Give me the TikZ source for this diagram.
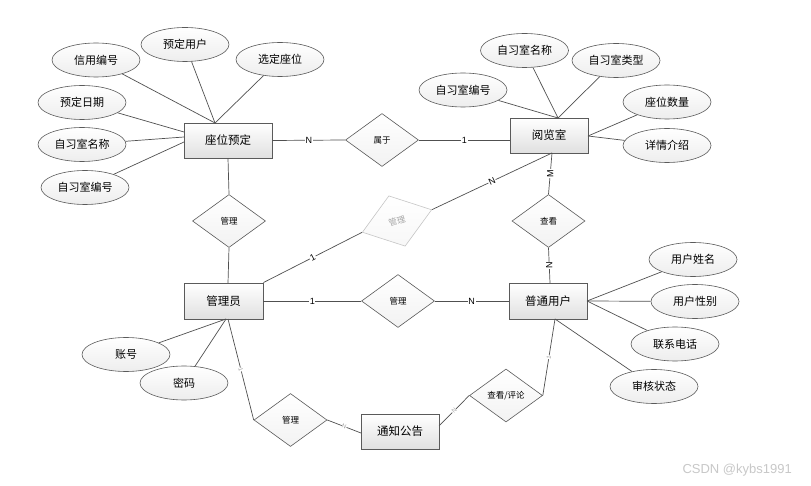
\documentclass[tikz,border=0pt]{standalone}
\usepackage{fontspec}
\setmainfont{Liberation Sans}
\newfontfamily\cjk{Noto Sans CJK SC}
\usetikzlibrary{shapes.geometric}
\definecolor{ln}{HTML}{505050}
\definecolor{bd}{HTML}{5A5A5A}
\definecolor{shd}{HTML}{E0E0E0}
\definecolor{wm}{HTML}{C8C8C8}
\tikzset{
  entity/.style={draw=bd, line width=0.9pt, rectangle, minimum width=78pt, minimum height=35pt,
    inner sep=0pt, top color=white, bottom color=shd, font=\cjk\fontsize{11.5}{13}\selectfont},
  attr/.style={draw=bd, line width=0.6pt, ellipse, minimum width=88pt, minimum height=34pt,
    inner sep=0pt, top color=white, bottom color=gray!14, font=\cjk\fontsize{11}{13}\selectfont},
  rel/.style={draw=bd, line width=0.6pt, diamond, minimum width=73pt, minimum height=53pt,
    inner sep=0pt, top color=white, bottom color=gray!10, font=\cjk\fontsize{8.5}{10}\selectfont},
  faderel/.style={rel, draw=gray!45, text=gray!70, bottom color=gray!6},
  conn/.style={draw=ln, line width=0.7pt},
  card/.style={fill=white, inner sep=0.6pt, font=\fontsize{9}{10}\selectfont},
  smallcard/.style={fill=white, inner sep=0.3pt, font=\fontsize{6}{7}\selectfont, text=gray!75},
}
\begin{document}
\begin{tikzpicture}[x=1pt, y=-1pt]
\fill[white] (0,0) rectangle (811,486);
\useasboundingbox (0,0) rectangle (811,486);

% entities
\node[entity, minimum width=88pt] (zwyd) at (228,140.5) {座位预定};
\node[entity] (yls) at (549,135.5) {阅览室};
\node[entity, minimum width=79pt, minimum height=36pt] (gly) at (223.5,301) {管理员};
\node[entity, minimum height=36pt] (pt) at (548,301) {普通用户};
\node[entity] (tz) at (400,431.5) {通知公告};

% attributes of 座位预定
\node[attr] (a1) at (96,60) {信用编号};
\node[attr] (a2) at (185,44.5) {预定用户};
\node[attr] (a3) at (280,59.5) {选定座位};
\node[attr] (a4) at (82,102.5) {预定日期};
\node[attr] (a5) at (82,144.5) {自习室名称};
\node[attr] (a6) at (85,187.5) {自习室编号};
% attributes of 阅览室
\node[attr] (b1) at (463,90) {自习室编号};
\node[attr] (b2) at (524.5,50.5) {自习室名称};
\node[attr] (b3) at (616,60.5) {自习室类型};
\node[attr] (b4) at (667,102) {座位数量};
\node[attr] (b5) at (667,145.5) {详情介绍};
% attributes of 管理员
\node[attr] (c1) at (126,354.5) {账号};
\node[attr] (c2) at (184,383) {密码};
% attributes of 普通用户
\node[attr] (d1) at (693,259.5) {用户姓名};
\node[attr] (d2) at (695,301.5) {用户性别};
\node[attr] (d3) at (675,344) {联系电话};
\node[attr] (d4) at (654,386.5) {审核状态};

% relationships
\node[rel] (r1) at (229,221) {管理};
\node[rel] (sy) at (382,140) {属于};
\node[faderel, rotate=18] (r2) at (397,221) {管理};
\node[rel] (ck) at (548.5,221) {查看};
\node[rel] (r3) at (398,301) {管理};
\node[rel] (r4) at (290.5,420) {管理};
\node[rel] (ck2) at (506,395.5) {查看/评论};

% connection points
\coordinate (zwT) at (215,123);
\coordinate (zwL1) at (184,132);
\coordinate (zwL2) at (184,137);
\coordinate (zwL3) at (184,142);
\coordinate (ylsT) at (558,118);
\coordinate (ylsR) at (588,136);
\coordinate (ylsB) at (552,153);
\coordinate (ylsL) at (510,140);
\coordinate (glyT) at (228,283);
\coordinate (glyB) at (226,319);
\coordinate (glyB2) at (228,319);
\coordinate (ptT) at (550,283);
\coordinate (ptB) at (555,319);
\coordinate (ptR) at (587,301);
\coordinate (tzL) at (361,433);
\coordinate (tzR) at (439,426);

% attribute links
\draw[conn] (a1) -- (zwT);
\draw[conn] (a2) -- (zwT);
\draw[conn] (a3) -- (zwT);
\draw[conn] (a4) -- (zwL1);
\draw[conn] (a5) -- (zwL2);
\draw[conn] (a6) -- (zwL3);
\draw[conn] (b1) -- (ylsT);
\draw[conn] (b2) -- (ylsT);
\draw[conn] (b3) -- (ylsT);
\draw[conn] (b4) -- (ylsR);
\draw[conn] (b5) -- (ylsR);
\draw[conn] (c1) -- (glyB);
\draw[conn] (c2) -- (glyB);
\draw[conn] (d1) -- (ptR);
\draw[conn] (d2) -- (ptR);
\draw[conn] (d3) -- (ptR);
\draw[conn] (d4) -- (ptB);

% relationship links
\draw[conn] (zwyd.east) -- node[card]{N} (sy.west);
\draw[conn] (sy.east) -- node[card]{1} (ylsL);
\draw[conn] (zwyd.south) -- (r1.north);
\draw[conn] (r1.south) -- (glyT);
\draw[conn] (ylsB) -- node[card, rotate=90]{M} (ck.north);
\draw[conn] (ck.south) -- node[card, rotate=90]{N} (ptT);
\draw[conn] (gly.north east) -- node[card, sloped]{1} (r2.west);
\draw[conn] (r2.east) -- node[card, sloped]{N} (ylsB);
\draw[conn] (gly.east) -- node[card]{1} (r3.west);
\draw[conn] (r3.east) -- node[card]{N} (pt.west);
\draw[conn] (glyB2) -- node[smallcard, sloped]{1} (r4.west);
\draw[conn] (r4.east) -- node[smallcard, sloped]{N} (tzL);
\draw[conn] (tzR) -- node[smallcard, sloped]{N} (ck2.west);
\draw[conn] (ck2.east) -- node[smallcard, sloped]{1} (ptB);

% watermark
\node[font=\fontsize{13}{14}\selectfont, text=wm, anchor=east, inner sep=0pt] (mark) at (792,470) {CSDN @kybs1991};
\end{tikzpicture}
\end{document}
